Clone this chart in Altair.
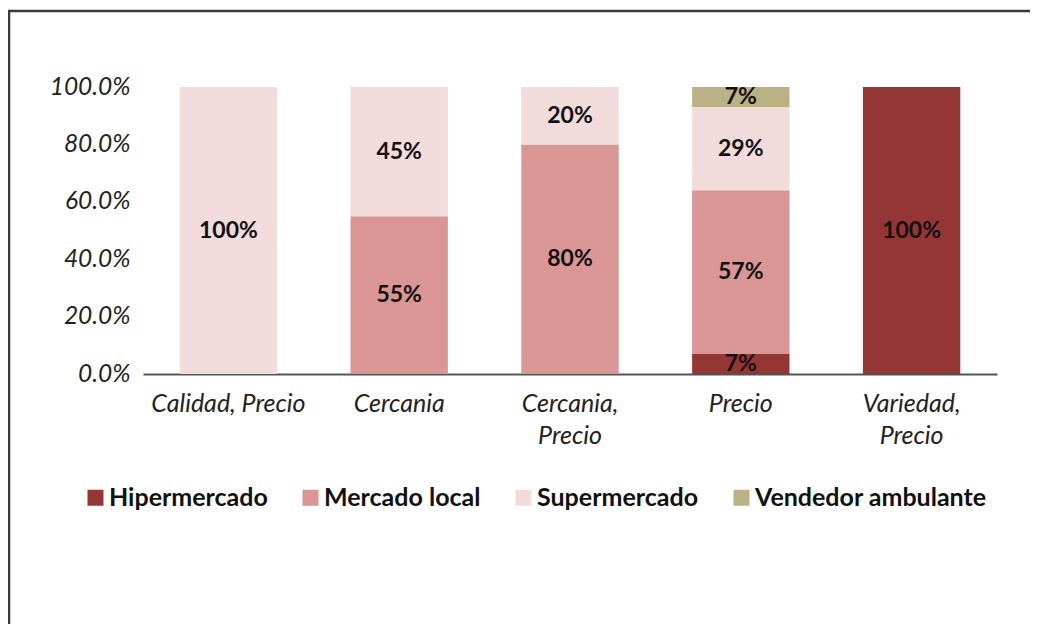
import altair as alt
import pandas as pd

categories = ["Calidad, Precio", "Cercania", "Cercania, Precio", "Precio", "Variedad, Precio"]
series = ["Hipermercado", "Mercado local", "Supermercado", "Vendedor ambulante"]
colors = ["#943634", "#D99694", "#F2DCDB", "#BAB282"]

hipermercado = [0.00, 0.00, 0.00, 0.07, 1.00]
mercado_local = [0.00, 0.55, 0.80, 0.57, 0.00]
supermercado = [1.00, 0.45, 0.20, 0.29, 0.00]
vendedor = [0.00, 0.00, 0.00, 0.07, 0.00]

y_ticks = [0.0, 0.2, 0.4, 0.6, 0.8, 1.0]

rows = []
for s_idx, (name, vals) in enumerate(zip(series, [hipermercado, mercado_local, supermercado, vendedor])):
    for cat, v in zip(categories, vals):
        if v > 0:
            rows.append({"category": cat, "series": name, "order": s_idx, "value": v})
df = pd.DataFrame(rows)

FONT = "Lato"

base = alt.Chart(df).transform_stack(
    stack="value", groupby=["category"], as_=["v0", "v1"],
    sort=[alt.SortField("order", order="ascending")]
).transform_calculate(mid="(datum.v0 + datum.v1) / 2")

x_enc = alt.X(
    "category:N", sort=categories, title=None,
    scale=alt.Scale(paddingInner=0.43, paddingOuter=0.215),
    axis=alt.Axis(
        labelAngle=0, labelFont=FONT, labelFontStyle="italic", labelFontSize=25,
        labelColor="#222222", labelPadding=17, labelLineHeight=32, labelLimit=300,
        ticks=False, domainColor="#555555", domainWidth=2,
        labelExpr="length(datum.label) > 15 ? split(datum.label, ' ') : datum.label",
    ),
)

bars = base.mark_bar().encode(
    x=x_enc,
    y=alt.Y(
        "v0:Q", title=None,
        scale=alt.Scale(domain=[0, 1], nice=False),
        axis=alt.Axis(
            values=y_ticks, format=".1%", labelFont=FONT, labelFontStyle="italic",
            labelFontSize=24.5, labelColor="#222222", labelPadding=13,
            ticks=False, domain=False, grid=False,
        ),
    ),
    y2="v1:Q",
    color=alt.Color(
        "series:N", title=None,
        scale=alt.Scale(domain=series, range=colors),
        legend=alt.Legend(
            orient="none", legendX=-60, legendY=398, direction="horizontal", columns=4,
            symbolType="square", symbolSize=256, symbolStrokeWidth=0,
            labelFont=FONT, labelFontWeight="bold", labelFontSize=25, labelColor="#111111",
            labelOffset=1, columnPadding=30, labelLimit=400,
        ),
    ),
)

labels = base.mark_text(
    font=FONT, fontWeight="bold", fontSize=23, color="#111111", baseline="middle"
).encode(
    x=alt.X("category:N", sort=categories),
    y=alt.Y("mid:Q"),
    text=alt.Text("value:Q", format=".0%"),
)

frame_df = pd.DataFrame({"a": [0]})
frame_left = alt.Chart(frame_df).mark_rule(color="#3a3a3a", strokeWidth=2.5).encode(
    x=alt.value(-134), y=alt.value(-77), y2=alt.value(545)
)
frame_top = alt.Chart(frame_df).mark_rule(color="#3a3a3a", strokeWidth=2.5).encode(
    x=alt.value(-135), x2=alt.value(890), y=alt.value(-76)
)

chart = alt.layer(bars, labels, frame_left, frame_top).properties(
    width=854, height=287,
    autosize=alt.AutoSizeParams(type="none"),
    padding={"left": 135, "top": 79, "right": 33, "bottom": 250},
    background="white",
).configure_view(stroke=None)

chart.save("out.html", embed_options={"renderer": "svg", "actions": False})
